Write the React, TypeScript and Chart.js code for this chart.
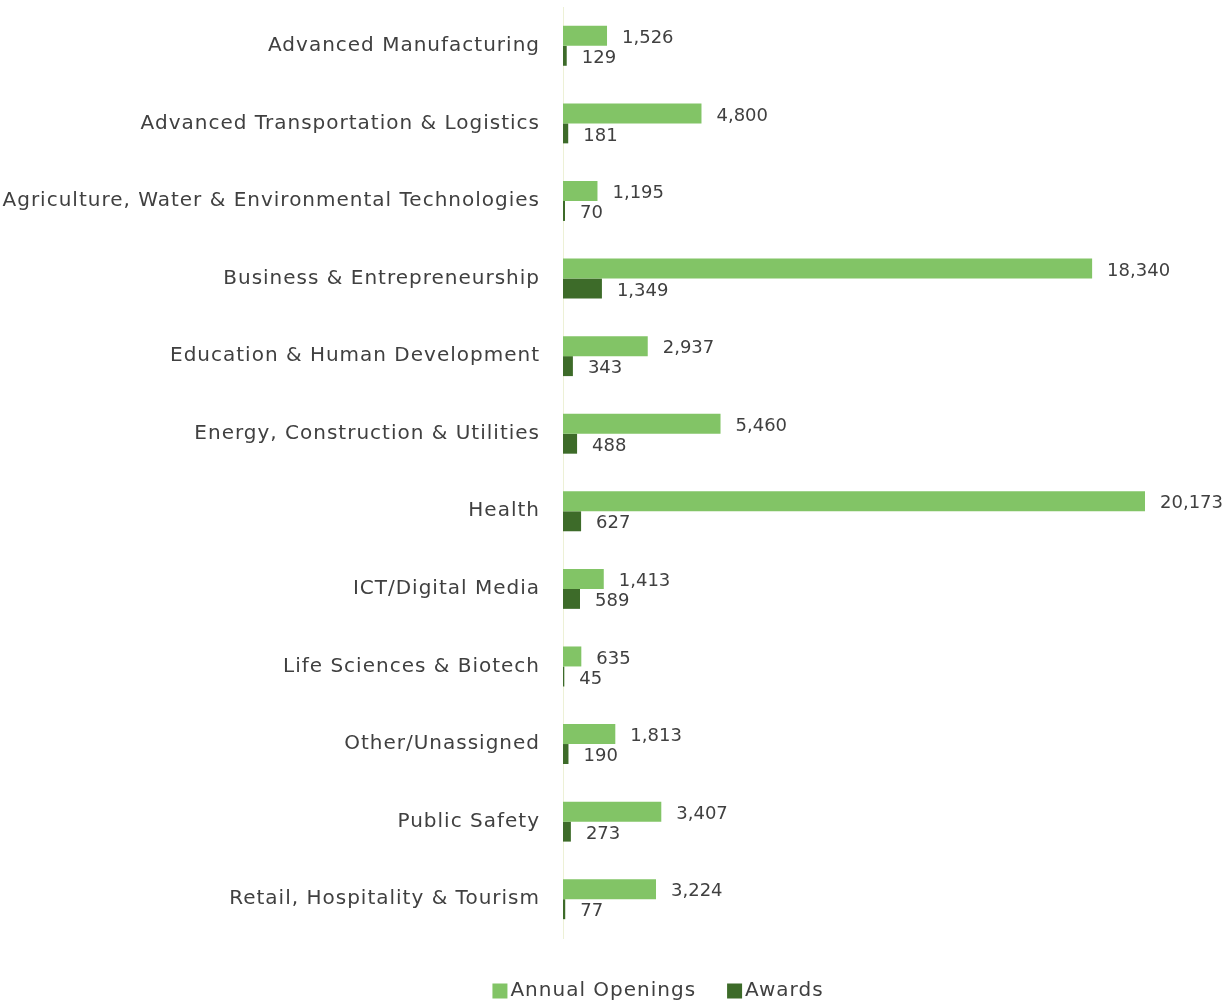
import React, { useEffect, useRef } from "react";
import { Chart, registerables } from "chart.js";

Chart.register(...registerables);

const categories = [
  "Advanced Manufacturing",
  "Advanced Transportation & Logistics",
  "Agriculture, Water & Environmental Technologies",
  "Business & Entrepreneurship",
  "Education & Human Development",
  "Energy, Construction & Utilities",
  "Health",
  "ICT/Digital Media",
  "Life Sciences & Biotech",
  "Other/Unassigned",
  "Public Safety",
  "Retail, Hospitality & Tourism",
];

const annualOpenings = [1526, 4800, 1195, 18340, 2937, 5460, 20173, 1413, 635, 1813, 3407, 3224];
const awards = [129, 181, 70, 1349, 343, 488, 627, 589, 45, 190, 273, 77];

const seriesNames = ["Annual Openings", "Awards"];
const seriesColors = ["#82C466", "#3D6B29"];

const FONT = "'DejaVu Sans', sans-serif";
const TEXT = "#404040";
const SPACING = "1px";

const spacingPlugin = {
  id: "spacing",
  beforeInit(chart: any) {
    chart.ctx.letterSpacing = SPACING;
  },
  beforeLayout(chart: any) {
    chart.ctx.letterSpacing = SPACING;
  },
  beforeDraw(chart: any) {
    chart.ctx.letterSpacing = SPACING;
  },
};

const valueLabels = {
  id: "valueLabels",
  afterDatasetsDraw(chart: any) {
    const ctx = chart.ctx;
    ctx.save();
    ctx.letterSpacing = "0px";
    ctx.font = `18px ${FONT}`;
    ctx.fillStyle = TEXT;
    ctx.textAlign = "left";
    ctx.textBaseline = "middle";
    chart.data.datasets.forEach((ds: any, i: number) => {
      const meta = chart.getDatasetMeta(i);
      meta.data.forEach((bar: any, j: number) => {
        const v = ds.data[j];
        ctx.fillText(v.toLocaleString("en-US"), bar.x + 15, bar.y + 2.5);
      });
    });
    ctx.restore();
  },
};

const customLegend = {
  id: "customLegend",
  afterDraw(chart: any) {
    const ctx = chart.ctx;
    ctx.save();
    ctx.letterSpacing = "1px";
    ctx.font = `20px ${FONT}`;
    ctx.textBaseline = "middle";
    ctx.textAlign = "left";
    const box = 15;
    const gapBoxText = 3;
    const gapItems = 31;
    const widths = seriesNames.map((n) => ctx.measureText(n).width);
    const total =
      widths.reduce((a: number, w: number) => a + box + gapBoxText + w, 0) + gapItems * (seriesNames.length - 1);
    const centerX = 658;
    const y = 991;
    let x = centerX - total / 2;
    seriesNames.forEach((n, i) => {
      ctx.fillStyle = seriesColors[i];
      ctx.fillRect(x, y - box / 2, box, box);
      ctx.fillStyle = TEXT;
      ctx.fillText(n, x + box + gapBoxText, y);
      x += box + gapBoxText + widths[i] + gapItems;
    });
    ctx.restore();
  },
};

export default function App() {
  const ref = useRef<HTMLCanvasElement>(null);
  useEffect(() => {
    document.body.style.margin = "0";
    const chart = new Chart(ref.current!, {
      type: "bar",
      data: {
        labels: categories,
        datasets: [
          {
            label: seriesNames[0],
            data: annualOpenings,
            backgroundColor: seriesColors[0],
            barPercentage: 1,
            categoryPercentage: 0.515,
          },
          {
            label: seriesNames[1],
            data: awards,
            backgroundColor: seriesColors[1],
            barPercentage: 1,
            categoryPercentage: 0.515,
          },
        ],
      },
      options: {
        indexAxis: "y",
        animation: false,
        responsive: false,
        maintainAspectRatio: false,
        layout: { padding: { left: 0, right: 0, top: 7, bottom: 64 } },
        scales: {
          x: {
            display: false,
            min: 0,
            max: 23015,
          },
          y: {
            grid: {
              display: true,
              drawTicks: true,
              tickLength: 23,
              color: "rgba(0,0,0,0)",
            },
            border: { display: true, color: "#EDF1D6", width: 1 },
            ticks: {
              color: TEXT,
              padding: 0,
              font: { family: FONT, size: 20, lineHeight: 0.6 },
              autoSkip: false,
            },
            afterFit(scale: any) {
              scale.width = 563;
            },
          },
        },
        plugins: {
          legend: { display: false },
          tooltip: { enabled: false },
        },
      },
      plugins: [spacingPlugin, valueLabels, customLegend],
    });
    return () => chart.destroy();
  }, []);
  return (
    <div style={{ position: "absolute", left: 0, top: 0 }}>
      <canvas ref={ref} width={1227} height={1002} style={{ display: "block" }} />
    </div>
  );
}
